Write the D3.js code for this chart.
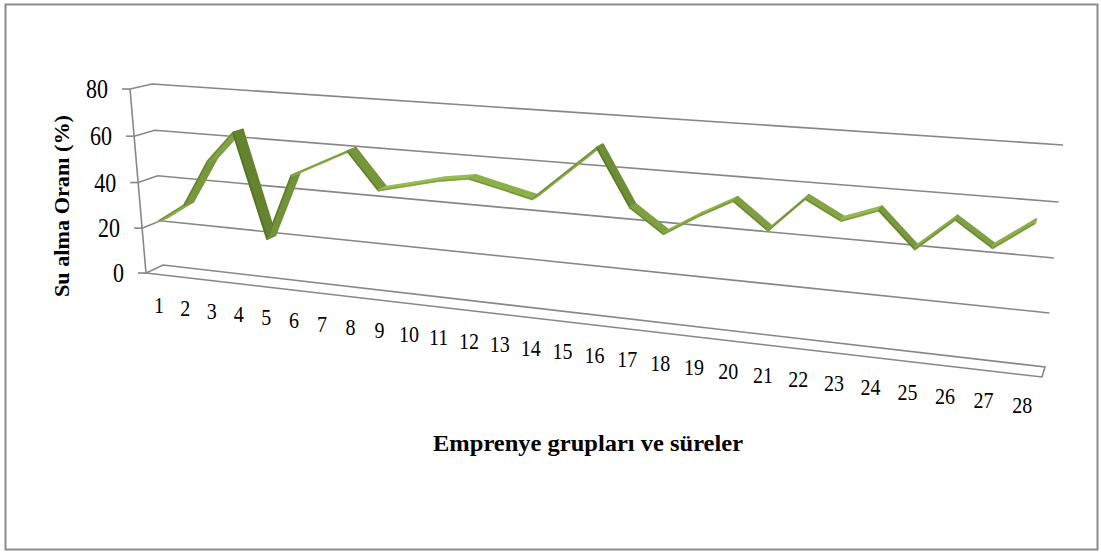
<!DOCTYPE html>
<html>
<head>
<meta charset="utf-8">
<script src="https://cdn.jsdelivr.net/npm/d3@7"></script>
<style>
  body { margin: 0; background: #fff; }
  svg { display: block; }
  text { font-family: "Liberation Serif", "Times New Roman", serif; fill: #000; }
</style>
</head>
<body>
<svg id="chart" width="1101" height="554"></svg>
<script>
// ---- data ----
const categories = d3.range(1, 29).map(String);
const values = [23, 31, 51, 64, 20, 48, 54, 60, 45, 48, 51, 53, 50, 47,
                58, 69, 47, 38, 46, 53, 43, 56, 49, 54, 41, 53, 44, 54];
const valueTicks = [0, 20, 40, 60, 80];
const yTitle = "Su alma Oranı (%)";
const xTitle = "Emprenye grupları ve süreler";

// ---- 3D box: screen corners of the front and back planes ----
// order: (u=0,v=0), (u=1,v=0), (u=1,v=1), (u=0,v=1)
const frontQuad = [[146, 273], [1042, 377], [1060, 152], [130, 89]];
const backQuad  = [[163, 265], [1045, 367], [1063, 145], [152, 84]];

// projective map of the unit square onto a quad
function homography(q) {
  const [[x0, y0], [x1, y1], [x2, y2], [x3, y3]] = q;
  const dx1 = x1 - x2, dx2 = x3 - x2, dx3 = x0 - x1 + x2 - x3;
  const dy1 = y1 - y2, dy2 = y3 - y2, dy3 = y0 - y1 + y2 - y3;
  const den = dx1 * dy2 - dx2 * dy1;
  const g = (dx3 * dy2 - dx2 * dy3) / den;
  const h = (dx1 * dy3 - dx3 * dy1) / den;
  const a = x1 - x0 + g * x1, b = x3 - x0 + h * x3, c = x0;
  const d = y1 - y0 + g * y1, e = y3 - y0 + h * y3, f = y0;
  return (u, v) => {
    const w = g * u + h * v + 1;
    return [(a * u + b * v + c) / w, (d * u + e * v + f) / w];
  };
}
const frontMap = homography(frontQuad);
const backMap = homography(backQuad);
// depth: 0 = front plane, 1 = back plane
function project(u, v, depth) {
  const f = frontMap(u, v), b = backMap(u, v);
  return [f[0] + (b[0] - f[0]) * depth, f[1] + (b[1] - f[1]) * depth];
}

// ---- scales ----
const xBand = d3.scaleBand().domain(categories).range([0, 1]);
const uOf = c => xBand(c) + xBand.bandwidth() / 2;
const yScale = d3.scaleLinear().domain([0, 80]).range([0, 1]);

const svg = d3.select("#chart");
const gridColor = "#878787";

// outer chart border
svg.append("rect")
  .attr("x", 5.5).attr("y", 4.5).attr("width", 1092).attr("height", 545)
  .attr("fill", "#fff").attr("stroke", "#8a8a8a").attr("stroke-width", 2);

const line = d3.line();
const grid = svg.append("g").attr("fill", "none").attr("stroke", gridColor).attr("stroke-width", 1.6);

// floor plate
grid.append("path").attr("d", line([
  project(0, 0, 0), project(1, 0, 0), project(1, 0, 1), project(0, 0, 1)
]) + "Z");

// side-wall and back-wall gridlines
valueTicks.filter(t => t > 0).forEach(t => {
  const v = yScale(t);
  grid.append("path").attr("d", line([project(0, v, 0), project(0, v, 1), project(1, v, 1)]));
});

// vertical value axis on the front-left edge
grid.append("path").attr("d", line([project(0, 0, 0), project(0, 1, 0)]));

// ticks and tick labels
valueTicks.forEach(t => {
  const p = project(0, yScale(t), 0);
  grid.append("path").attr("d", line([[p[0] - 8, p[1]], p]));
  svg.append("text")
    .attr("transform", `translate(${p[0] - 22},${p[1]}) scale(1,1.2)`)
    .attr("text-anchor", "end")
    .attr("dominant-baseline", "central")
    .attr("font-size", 22)
    .text(t);
});

// category labels along the front floor edge
categories.forEach(c => {
  const p = project(uOf(c), 0, 0);
  svg.append("text")
    .attr("transform", `translate(${p[0]},${p[1] + 30}) scale(1,1.2)`)
    .attr("text-anchor", "middle")
    .attr("dominant-baseline", "central")
    .attr("font-size", 20)
    .text(c);
});

// ---- 3D ribbon for the series ----
const d0 = 0.25, d1 = 0.75;
const frontEdge = categories.map((c, i) => project(uOf(c), yScale(values[i]), d0));
const backEdge  = categories.map((c, i) => project(uOf(c), yScale(values[i]), d1));
const shade = d3.interpolateRgb("#9bbd55", "#5f7f2c");
const ribbon = svg.append("g").attr("stroke-linejoin", "round");
for (let i = 0; i < categories.length - 1; i++) {
  const dx = frontEdge[i + 1][0] - frontEdge[i][0];
  const dy = frontEdge[i + 1][1] - frontEdge[i][1];
  let k = Math.atan(Math.abs(dy / dx)) / (Math.PI / 2);
  if (dy > 0) k += 0.15;
  const col = shade(Math.min(1, Math.pow(k, 1.4)));
  // face of the strip
  ribbon.append("path")
    .attr("d", line([frontEdge[i], frontEdge[i + 1], backEdge[i + 1], backEdge[i]]) + "Z")
    .attr("fill", col).attr("stroke", col).attr("stroke-width", 2.2);
  // darker lower rim of the strip
  ribbon.append("path")
    .attr("d", line([frontEdge[i], frontEdge[i + 1]]))
    .attr("fill", "none").attr("stroke", d3.color(col).darker(0.5)).attr("stroke-width", 1.2);
}
</script>
<script>
// ---- axis titles ----
d3.select("#chart").append("text")
  .attr("transform", "translate(588,451) scale(1,1.2)")
  .attr("text-anchor", "middle")
  .attr("font-size", 20).attr("font-weight", "bold")
  .attr("textLength", 310).attr("lengthAdjust", "spacingAndGlyphs")
  .text(xTitle);

d3.select("#chart").append("text")
  .attr("transform", "translate(69,206) rotate(-90)")
  .attr("text-anchor", "middle")
  .attr("font-size", 20).attr("font-weight", "bold")
  .attr("textLength", 182).attr("lengthAdjust", "spacingAndGlyphs")
  .text(yTitle);
</script>
</body>
</html>
